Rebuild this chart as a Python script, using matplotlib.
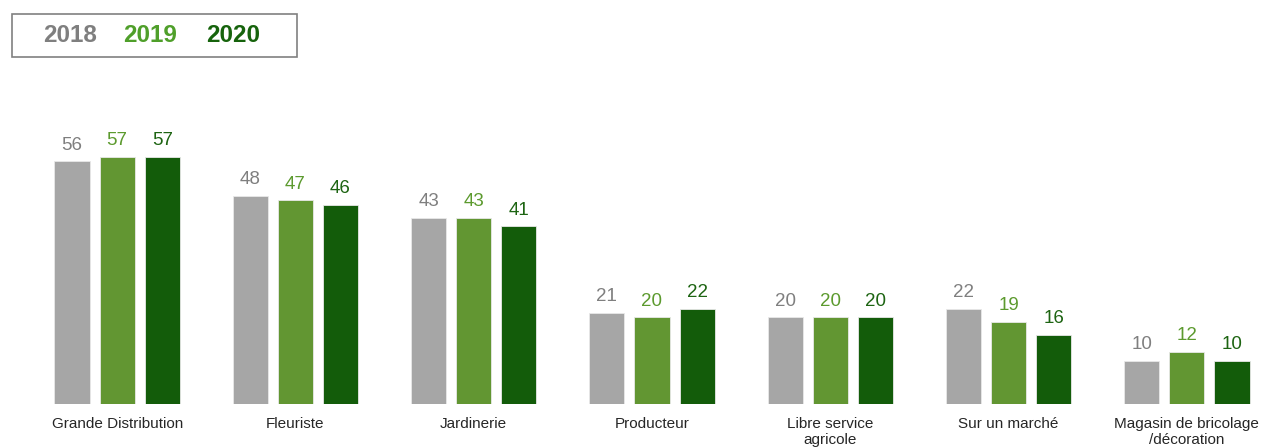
import numpy as np
import matplotlib.pyplot as plt
from matplotlib.patches import Rectangle

plt.rcParams['font.family'] = ['Liberation Sans', 'DejaVu Sans']

categories = ['Grande Distribution', 'Fleuriste', 'Jardinerie', 'Producteur',
              'Libre service\nagricole', 'Sur un marché',
              'Magasin de bricolage\n/décoration']
years = ['2018', '2019', '2020']
v2018 = [56, 48, 43, 21, 20, 22, 10]
v2019 = [57, 47, 43, 20, 20, 19, 12]
v2020 = [57, 46, 41, 22, 20, 16, 10]

bar_colors = ['#a6a6a6', '#629632', '#135c0a']
label_colors = ['#7f7f7f', '#5c9a2e', '#1d6412']
legend_colors = ['#7f7f7f', '#4f9f2a', '#16630c']

fig = plt.figure(figsize=(12.61, 4.48), dpi=100)
ax = fig.add_axes([0.0, 44 / 448, 1.0, 344 / 448])

x = np.arange(len(categories))
w = 0.197
step = 0.253
for i, vals in enumerate([v2018, v2019, v2020]):
    pos = x + (i - 1) * step
    bars = ax.bar(pos, vals, width=w, color=bar_colors[i],
                  edgecolor='#e8e8e8', linewidth=0.6)
    for b, v in zip(bars, vals):
        ax.annotate(str(v), (b.get_x() + b.get_width() / 2, v),
                    xytext=(0, 5.5), textcoords='offset points',
                    ha='center', va='bottom', fontsize=13.5,
                    color=label_colors[i])

ax.set_xlim(-0.657, 6.416)
ax.set_ylim(0, 79.4)
ax.set_xticks(x)
ax.set_xticklabels(categories, fontsize=11, color='#262626', linespacing=1.25)
ax.tick_params(axis='x', length=0, pad=9)
ax.set_yticks([])
for s in ax.spines.values():
    s.set_visible(False)

# legend box drawn as text
fig.patches.append(Rectangle((12 / 1261, 1 - 57 / 448), 285 / 1261, 43 / 448,
                             transform=fig.transFigure, fill=False,
                             edgecolor='#808080', linewidth=1.2))
for yr, c, xc in zip(years, legend_colors, [70, 150, 233]):
    fig.text(xc / 1261, 1 - 36 / 448, yr, color=c, fontsize=17.5,
             fontweight='bold', ha='center', va='center')

fig.savefig('out.png', dpi=100)
